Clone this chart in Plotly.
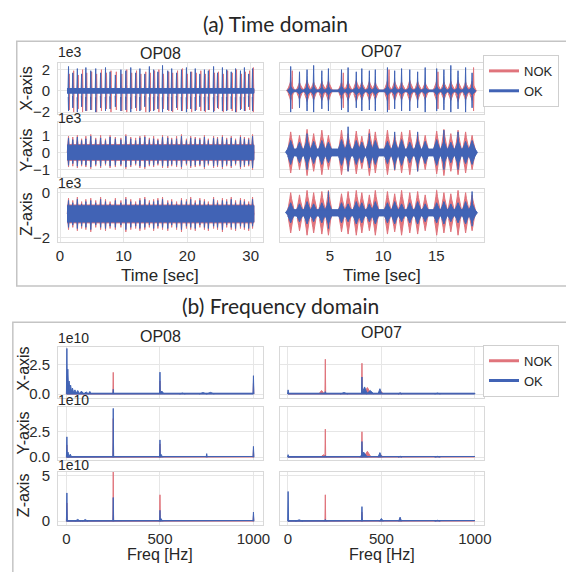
import plotly.graph_objects as go

W, H = 566, 572
NOK_COLOR = "#e0747c"
OK_COLOR = "#4163b5"

# ---------------- DATA ----------------
# Time domain, amplitudes in units of 1e3
op08_t_range = [1.1, 30.5]
op08_ok_t = [1.34, 2.01, 2.73, 3.40, 4.07, 4.84, 5.62, 6.39, 7.16, 7.88, 8.71, 9.58, 10.36, 11.13,
             11.90, 12.57, 13.34, 14.06, 14.73, 15.40, 16.13, 16.95, 17.57, 18.34, 19.11, 19.89,
             20.56, 21.28, 22.00, 22.72, 23.34, 24.16, 24.78, 25.55, 26.22, 26.94, 27.62, 28.39,
             29.01, 29.68, 30.29]
op08_nok_t = [1.46, 2.15, 2.86, 3.55, 4.20, 4.98, 5.76, 6.52, 7.31, 8.02, 8.86, 9.72, 10.50, 11.27,
              12.04, 12.72, 13.49, 14.20, 14.88, 15.55, 16.28, 17.10, 17.72, 18.49, 19.26, 20.04,
              20.71, 21.43, 22.15, 22.87, 23.49, 24.31, 24.93, 25.70, 26.37, 27.09, 27.77, 28.54,
              29.16, 29.83, 30.42]

op08x_center = 0.0
op08x_ok_floor, op08x_nok_floor = 0.22, 0.15
op08x_ok_hi = [2.3, 1.7, 2.1, 1.6, 2.2, 1.9, 2.1, 1.7, 2.2, 1.8, 1.5, 2.0, 1.9, 2.2, 1.7, 2.1, 1.6, 2.3,
               2.0, 1.8, 2.4, 1.9, 2.1, 1.7, 2.0, 2.2, 1.8, 2.1, 1.6, 2.0, 1.9, 2.3, 1.7, 2.2, 2.0, 1.8,
               2.1, 1.9, 2.2, 1.6, 2.1]
op08x_ok_lo = [-1.9, -1.6, -2.0, -1.5, -1.9, -1.8, -2.0, -1.6, -1.9, -1.7, -1.5, -1.9, -1.8, -2.0,
               -1.6, -1.9, -1.5, -2.0, -1.9, -1.7, -2.0, -1.8, -1.9, -1.6, -1.9, -2.0, -1.7, -1.9,
               -1.5, -1.9, -1.8, -2.0, -1.6, -1.9, -1.9, -1.7, -2.0, -1.8, -1.9, -1.5, -1.9]
op08x_nok_hi = [1.6, 1.9, 1.5, 2.0, 1.7, 1.8, 1.6, 2.0, 1.7, 1.9, 1.8, 1.6, 2.0, 1.7, 1.9, 1.6, 1.8,
                1.7, 1.9, 2.0, 1.6, 1.8, 1.7, 1.9, 2.1, 1.6, 1.8, 1.7, 1.9, 1.6, 2.0, 1.7, 1.8, 1.6,
                1.9, 1.7, 2.0, 1.6, 1.8, 1.9, 2.2]
op08x_nok_lo = [-1.8, -2.0, -1.7, -2.0, -1.9, -1.8, -2.0, -1.9, -1.7, -2.0, -1.8, -1.9, -2.0, -1.7,
                -1.9, -1.8, -2.0, -1.9, -1.8, -2.0, -1.7, -1.9, -2.0, -1.8, -1.9, -1.7, -2.0, -1.8,
                -1.9, -2.0, -1.8, -1.9, -1.7, -2.0, -1.8, -1.9, -2.0, -1.7, -1.9, -1.8, -2.0]

op08y_center = 0.0
op08y_ok_floor, op08y_nok_floor = 0.42, 0.46
op08y_ok_hi = [0.85, 0.75, 0.9, 0.7, 0.8, 0.95, 0.75, 0.85, 0.7, 0.9, 0.8, 0.75, 0.95, 0.8, 0.7, 0.85,
               0.9, 0.75, 0.8, 0.7, 0.9, 0.85, 0.75, 0.8, 0.95, 0.7, 0.85, 0.8, 0.75, 0.9, 0.7, 0.85,
               0.8, 0.9, 0.75, 0.85, 0.7, 0.9, 0.8, 0.75, 0.95]
op08y_ok_lo = [-0.75, -0.65, -0.8, -0.7, -0.75, -0.85, -0.7, -0.8, -0.65, -0.8, -0.75, -0.7, -0.85,
               -0.75, -0.65, -0.8, -0.85, -0.7, -0.75, -0.65, -0.8, -0.8, -0.7, -0.75, -0.85, -0.65,
               -0.8, -0.75, -0.7, -0.85, -0.65, -0.8, -0.75, -0.85, -0.7, -0.8, -0.65, -0.85, -0.75,
               -0.7, -0.9]
op08y_nok_hi = [0.95, 0.9, 1.0, 0.8, 0.95, 1.05, 0.85, 1.0, 0.8, 1.0, 0.9, 0.85, 1.05, 0.9, 0.85,
                0.95, 1.0, 0.85, 0.95, 0.8, 1.0, 0.95, 0.85, 0.95, 1.05, 0.8, 0.95, 0.9, 0.85, 1.0,
                0.8, 0.95, 0.9, 1.0, 0.85, 0.95, 0.8, 1.0, 0.9, 0.85, 1.05]
op08y_nok_lo = [-0.85, -0.8, -0.9, -0.8, -0.85, -0.95, -0.8, -0.9, -0.75, -0.9, -0.85, -0.8, -0.95,
                -0.85, -0.75, -0.9, -0.95, -0.8, -0.85, -0.75, -0.9, -0.9, -0.8, -0.85, -0.95, -0.75,
                -0.9, -0.85, -0.8, -0.95, -0.75, -0.9, -0.85, -0.95, -0.8, -0.9, -0.75, -0.95, -0.85,
                -0.8, -1.0]

op08z_center = -0.95
op08z_ok_floor, op08z_nok_floor = 0.36, 0.40
op08z_ok_hi = [-0.35, -0.45, -0.3, -0.5, -0.4, -0.35, -0.45, -0.3, -0.4, -0.5, -0.35, -0.45, -0.3,
               -0.4, -0.5, -0.35, -0.3, -0.45, -0.4, -0.35, -0.3, -0.45, -0.4, -0.5, -0.35, -0.4,
               -0.3, -0.45, -0.35, -0.4, -0.5, -0.3, -0.45, -0.35, -0.4, -0.3, -0.45, -0.35, -0.4,
               -0.5, -0.3]
op08z_ok_lo = [-1.55, -1.45, -1.6, -1.5, -1.55, -1.65, -1.45, -1.55, -1.6, -1.5, -1.55, -1.45, -1.65,
               -1.55, -1.5, -1.6, -1.55, -1.45, -1.6, -1.5, -1.55, -1.6, -1.45, -1.55, -1.65, -1.5,
               -1.55, -1.6, -1.45, -1.55, -1.6, -1.5, -1.55, -1.65, -1.45, -1.55, -1.6, -1.5, -1.55,
               -1.6, -1.5]
op08z_nok_hi = [-0.25, -0.35, -0.2, -0.4, -0.3, -0.25, -0.35, -0.2, -0.3, -0.4, -0.25, -0.35, -0.2,
                -0.3, -0.4, -0.25, -0.2, -0.35, -0.3, -0.25, -0.2, -0.35, -0.3, -0.4, -0.25, -0.3,
                -0.2, -0.35, -0.25, -0.3, -0.4, -0.2, -0.35, -0.25, -0.3, -0.2, -0.35, -0.25, -0.3,
                -0.4, -0.2]
op08z_nok_lo = [-1.65, -1.55, -1.7, -1.6, -1.65, -1.75, -1.55, -1.65, -1.7, -1.6, -1.65, -1.55, -1.75,
                -1.65, -1.6, -1.7, -1.65, -1.55, -1.7, -1.6, -1.65, -1.7, -1.55, -1.65, -1.75, -1.6,
                -1.65, -1.7, -1.55, -1.65, -1.7, -1.6, -1.65, -1.75, -1.55, -1.65, -1.7, -1.6, -1.65,
                -1.7, -1.6]

op07_t_range = [1.1, 18.6]
op07_t = [1.30, 2.13, 2.84, 3.46, 4.23, 4.85, 6.08, 6.70, 7.47, 7.99, 8.70, 9.26, 10.40, 11.08,
          11.73, 12.50, 13.24, 13.95, 15.03, 15.71, 16.36, 17.04, 17.75, 18.36]

op07x_center = 0.0
op07x_ok_floor, op07x_nok_floor = 0.08, 0.06
op07x_ok_spike_hi = [2.3, 1.8, 2.0, 2.4, 1.9, 2.1, 2.0, 2.2, 1.8, 2.1, 1.9, 2.0, 2.2, 1.9, 2.1, 2.0,
                     1.8, 2.2, 2.1, 2.0, 2.4, 1.9, 2.2, 1.7]
op07x_ok_spike_lo = [-2.0, -1.6, -1.9, -2.0, -1.7, -1.9, -1.8, -2.0, -1.6, -1.9, -1.8, -1.9, -2.0,
                     -1.7, -1.9, -1.9, -1.6, -2.0, -1.9, -1.8, -2.0, -1.7, -2.0, -1.6]
op07x_ok_burst = [0.4, 0.35, 0.45, 0.4, 0.35, 0.4, 0.45, 0.35, 0.4, 0.45, 0.35, 0.4, 0.45, 0.4,
                  0.35, 0.4, 0.45, 0.35, 0.4, 0.45, 0.4, 0.35, 0.45, 0.4]
op07x_nok_burst = [0.9, 0.8, 1.0, 0.85, 0.9, 0.95, 0.8, 0.9, 1.0, 0.85, 0.9, 0.8, 0.95, 0.9, 0.85,
                   1.0, 0.9, 0.8, 0.95, 0.85, 0.9, 1.0, 0.85, 0.9]
op07x_nok_spike_t = [1.45, 6.25, 10.55, 15.15, 18.50]
op07x_nok_spike_hi = [1.9, 1.7, 2.0, 1.8, 2.2]
op07x_nok_spike_lo = [-1.7, -1.6, -1.8, -1.7, -1.9]

op07y_center = 0.0
op07y_ok_floor, op07y_nok_floor = 0.2, 0.15
op07y_ok_burst = [0.7, 0.6, 0.75, 0.65, 0.7, 0.6, 0.75, 0.65, 0.7, 0.6, 0.75, 0.7, 0.65, 0.7, 0.75,
                  0.6, 0.7, 0.65, 0.75, 0.7, 0.6, 0.75, 0.65, 0.7]
op07y_nok_burst = [1.2, 1.0, 1.35, 1.1, 1.3, 1.0, 1.3, 1.1, 1.25, 0.95, 1.35, 1.2, 1.3, 1.05, 1.2,
                   1.3, 1.1, 1.0, 1.25, 1.35, 1.1, 1.3, 1.2, 1.0]
op07y_ok_spike_t = [2.84, 6.70, 8.70, 11.08, 13.24, 15.71, 17.04]
op07y_ok_spike_hi = [1.1, 1.5, 1.1, 1.2, 1.2, 1.3, 1.2]
op07y_ok_spike_lo = [-1.0, -1.1, -0.9, -1.0, -1.1, -1.0, -1.0]

op07z_center = -0.9
op07z_ok_floor, op07z_nok_floor = 0.14, 0.1
op07z_ok_burst = [0.45, 0.4, 0.5, 0.4, 0.45, 0.5, 0.45, 0.4, 0.5, 0.45, 0.4, 0.5, 0.45, 0.5, 0.4,
                  0.45, 0.5, 0.4, 0.45, 0.5, 0.4, 0.45, 0.5, 0.45]
op07z_nok_burst = [0.9, 0.8, 1.0, 0.9, 0.95, 1.0, 0.85, 0.95, 1.0, 0.9, 0.8, 1.0, 0.95, 0.85, 1.0,
                   0.9, 0.95, 0.8, 1.0, 0.9, 0.85, 1.0, 0.9, 0.8]
op07z_ok_spike_t = [4.85, 18.36]
op07z_ok_spike_hi = [0.05, 0.05]
op07z_ok_spike_lo = [-1.6, -1.5]

# Frequency domain, magnitude in units of 1e10
freq_range = [0, 1000]
op08x_ok_f = [2, 7, 14, 22, 32, 45, 60, 80, 105, 125, 250, 500, 510, 620, 730, 770, 1000]
op08x_ok_h = [3.85, 2.1, 1.1, 0.75, 0.5, 0.35, 0.3, 0.25, 0.18, 0.22, 0.4, 1.85, 0.25, 0.08, 0.12,
              0.14, 1.55]
op08x_ok_w = [5, 10, 12, 14, 16, 20, 20, 24, 24, 12, 4, 4, 24, 30, 40, 40, 5]
op08x_nok_f = [2, 250, 500, 1000]
op08x_nok_h = [1.5, 1.83, 1.1, 0.9]
op08x_nok_w = [5, 4, 4, 4]

op08y_ok_f = [2, 8, 20, 250, 500, 505, 750, 1000]
op08y_ok_h = [2.0, 0.5, 0.3, 4.8, 1.7, 0.3, 0.35, 1.06]
op08y_ok_w = [5, 10, 16, 4, 4, 20, 6, 5]
op08y_nok_f = [2, 250, 500, 1000]
op08y_nok_h = [1.2, 3.8, 1.3, 0.7]
op08y_nok_w = [5, 4, 4, 4]

op08z_ok_f = [2, 60, 100, 250, 500, 505, 1000]
op08z_ok_h = [3.1, 0.2, 0.18, 2.6, 1.2, 0.3, 1.0]
op08z_ok_w = [5, 30, 30, 4, 4, 20, 5]
op08z_nok_f = [2, 250, 500, 1000]
op08z_nok_h = [2.0, 5.6, 2.9, 0.6]
op08z_nok_w = [5, 4, 4, 4]

op07x_ok_f = [1, 200, 300, 396, 410, 440, 492, 600, 800]
op07x_ok_h = [0.35, 0.2, 0.12, 1.44, 0.6, 0.3, 0.45, 0.1, 0.08]
op07x_ok_w = [6, 10, 40, 5, 30, 40, 20, 20, 30]
op07x_nok_f = [180, 200, 396, 425, 500, 600]
op07x_nok_h = [0.3, 2.94, 2.6, 0.55, 0.2, 0.08]
op07x_nok_w = [30, 4, 4, 40, 20, 20]

op07y_ok_f = [1, 200, 396, 405, 492, 600, 800]
op07y_ok_h = [0.25, 0.15, 1.54, 0.5, 0.45, 0.1, 0.08]
op07y_ok_w = [6, 10, 5, 40, 20, 20, 30]
op07y_nok_f = [190, 200, 396, 425, 500]
op07y_nok_h = [0.25, 2.76, 2.5, 0.58, 0.2]
op07y_nok_w = [30, 4, 4, 40, 20]

op07z_ok_f = [1, 60, 200, 396, 500, 600, 800]
op07z_ok_h = [3.26, 0.15, 0.2, 1.6, 0.3, 0.45, 0.1]
op07z_ok_w = [5, 40, 10, 5, 20, 15, 30]
op07z_nok_f = [200, 396, 600]
op07z_nok_h = [2.9, 1.0, 0.3]
op07z_nok_w = [4, 4, 15]

ok_spec_floor, nok_spec_floor = 0.07, 0.04

series_names = ["NOK", "OK"]
col_titles = ["OP08", "OP07"]
row_titles = ["X-axis", "Y-axis", "Z-axis"]

# ---------------- helpers ----------------
# spindle outline of one burst: (fraction of duration, fraction of amplitude)
SPINDLE = [(-0.5, 0.0), (-0.28, 0.3), (-0.1, 0.72), (0.0, 1.0), (0.1, 0.72), (0.28, 0.3), (0.5, 0.0)]


def band(t0, t1, center, half):
    return [t0, t1, t1, t0, None], [center + half, center + half, center - half, center - half, None]


def bursts(times, hi, lo, dur, center):
    xs, ys = [], []
    for t, h, l in zip(times, hi, lo):
        for fx, fy in SPINDLE:
            xs.append(t + fx * dur)
            ys.append(center + fy * (h - center))
        for fx, fy in reversed(SPINDLE[1:-1]):
            xs.append(t + fx * dur)
            ys.append(center + fy * (l - center))
        xs.append(None)
        ys.append(None)
    return xs, ys


def sym_bursts(times, amps, dur, center):
    return bursts(times, [center + a for a in amps], [center - a for a in amps], dur, center)


def peaks(freqs, heights, widths):
    xs, ys = [], []
    for f, h, w in zip(freqs, heights, widths):
        xs += [f - w / 2, f, f + w / 2, None]
        ys += [0, h, 0, None]
    return xs, ys


def join(*parts):
    xs, ys = [], []
    for px_, py_ in parts:
        xs += px_
        ys += py_
    return xs, ys


fig = go.Figure()


def add_series(idx, xy, color):
    xs, ys = xy
    sfx = "" if idx == 1 else str(idx)
    fig.add_trace(go.Scatter(x=xs, y=ys, mode="lines", fill="toself", fillcolor=color,
                             line=dict(color=color, width=1), showlegend=False,
                             hoverinfo="skip", xaxis="x" + sfx, yaxis="y" + sfx))


# time panels: idx 1..6 (row-major, col 0 = OP08, col 1 = OP07)
t0, t1 = op08_t_range
add_series(1, join(band(t0, t1, op08x_center, op08x_nok_floor),
                   bursts(op08_nok_t, op08x_nok_hi, op08x_nok_lo, 0.14, op08x_center)), NOK_COLOR)
add_series(1, join(band(t0, t1, op08x_center, op08x_ok_floor),
                   bursts(op08_ok_t, op08x_ok_hi, op08x_ok_lo, 0.16, op08x_center)), OK_COLOR)
add_series(3, join(band(t0, t1, op08y_center, op08y_nok_floor),
                   bursts(op08_ok_t, op08y_nok_hi, op08y_nok_lo, 0.4, op08y_center)), NOK_COLOR)
add_series(3, join(band(t0, t1, op08y_center, op08y_ok_floor),
                   bursts(op08_ok_t, op08y_ok_hi, op08y_ok_lo, 0.35, op08y_center)), OK_COLOR)
add_series(5, join(band(t0, t1, op08z_center, op08z_nok_floor),
                   bursts(op08_ok_t, op08z_nok_hi, op08z_nok_lo, 0.4, op08z_center)), NOK_COLOR)
add_series(5, join(band(t0, t1, op08z_center, op08z_ok_floor),
                   bursts(op08_ok_t, op08z_ok_hi, op08z_ok_lo, 0.35, op08z_center)), OK_COLOR)

t0, t1 = op07_t_range
add_series(2, join(band(t0, t1, op07x_center, op07x_nok_floor),
                   sym_bursts(op07_t, op07x_nok_burst, 0.8, op07x_center),
                   bursts(op07x_nok_spike_t, op07x_nok_spike_hi, op07x_nok_spike_lo, 0.1, op07x_center)),
           NOK_COLOR)
add_series(2, join(band(t0, t1, op07x_center, op07x_ok_floor),
                   sym_bursts(op07_t, op07x_ok_burst, 0.7, op07x_center),
                   bursts(op07_t, op07x_ok_spike_hi, op07x_ok_spike_lo, 0.1, op07x_center)), OK_COLOR)
add_series(4, join(band(t0, t1, op07y_center, op07y_nok_floor),
                   sym_bursts(op07_t, op07y_nok_burst, 0.75, op07y_center)), NOK_COLOR)
add_series(4, join(band(t0, t1, op07y_center, op07y_ok_floor),
                   sym_bursts(op07_t, op07y_ok_burst, 1.0, op07y_center),
                   bursts(op07y_ok_spike_t, op07y_ok_spike_hi, op07y_ok_spike_lo, 0.1, op07y_center)),
           OK_COLOR)
add_series(6, join(band(t0, t1, op07z_center, op07z_nok_floor),
                   sym_bursts(op07_t, op07z_nok_burst, 0.75, op07z_center)), NOK_COLOR)
add_series(6, join(band(t0, t1, op07z_center, op07z_ok_floor),
                   sym_bursts(op07_t, op07z_ok_burst, 1.0, op07z_center),
                   bursts(op07z_ok_spike_t, op07z_ok_spike_hi, op07z_ok_spike_lo, 0.1, op07z_center)),
           OK_COLOR)

# frequency panels: idx 7..12
f0, f1 = freq_range
spec = [
    (7, op08x_nok_f, op08x_nok_h, op08x_nok_w, op08x_ok_f, op08x_ok_h, op08x_ok_w),
    (8, op07x_nok_f, op07x_nok_h, op07x_nok_w, op07x_ok_f, op07x_ok_h, op07x_ok_w),
    (9, op08y_nok_f, op08y_nok_h, op08y_nok_w, op08y_ok_f, op08y_ok_h, op08y_ok_w),
    (10, op07y_nok_f, op07y_nok_h, op07y_nok_w, op07y_ok_f, op07y_ok_h, op07y_ok_w),
    (11, op08z_nok_f, op08z_nok_h, op08z_nok_w, op08z_ok_f, op08z_ok_h, op08z_ok_w),
    (12, op07z_nok_f, op07z_nok_h, op07z_nok_w, op07z_ok_f, op07z_ok_h, op07z_ok_w),
]
for idx, nf, nh, nw, of, oh, ow in spec:
    add_series(idx, join(band(f0, f1, nok_spec_floor / 2, nok_spec_floor / 2), peaks(nf, nh, nw)),
               NOK_COLOR)
    add_series(idx, join(band(f0, f1, ok_spec_floor / 2, ok_spec_floor / 2), peaks(of, oh, ow)),
               OK_COLOR)

# legend entries
for lg in ["legend", "legend2"]:
    for name, color in zip(series_names, [NOK_COLOR, OK_COLOR]):
        fig.add_trace(go.Scatter(x=[None], y=[None], mode="lines", name=name,
                                 line=dict(color=color, width=3), legend=lg, showlegend=True))

# ---------------- layout ----------------
def px(v):
    return v / W


def py(v):
    return 1 - v / H


col_px = [(57, 265), (282, 490)]
time_rows_px = [(59, 111), (120, 176), (188, 242)]
freq_rows_px = [(349, 401), (411, 465), (477, 531)]

time_xrange = [[-0.3, 31.9], [0.25, 19.5]]
time_xticks = [[0, 10, 20, 30], [5, 10, 15]]
time_yrange = [[-2.15, 2.65], [-1.45, 1.75], [-2.2, 0.16]]
time_yticks = [[-2, 0, 2], [-1, 0, 1], [-2, 0]]
freq_xrange = [-45, 1050]
freq_xticks = [0, 500, 1000]
freq_yrange = [[-0.3, 4.0], [-0.3, 4.9], [-0.4, 5.4]]
freq_yticks = [[0, 2.5], [0, 2.5], [0, 5]]
freq_yfmt = [".1f", ".1f", "d"]

TICKFONT = dict(family="Liberation Sans, Arial, sans-serif", size=15, color="#2b2b2b")
axis_common = dict(showgrid=True, gridcolor="#e6e6e6", gridwidth=1, showline=True,
                   linecolor="#d9d9d9", linewidth=1, mirror=True, zeroline=False, ticks="",
                   tickfont=TICKFONT, fixedrange=True)

layout_axes = {}
for section in range(2):
    rows_px = time_rows_px if section == 0 else freq_rows_px
    for r in range(3):
        for c in range(2):
            idx = section * 6 + r * 2 + c + 1
            sfx = "" if idx == 1 else str(idx)
            xa = dict(axis_common, domain=[px(col_px[c][0]), px(col_px[c][1])],
                      anchor="y" + sfx, showticklabels=(r == 2), ticklabelstandoff=0)
            ya = dict(axis_common, domain=[py(rows_px[r][1]), py(rows_px[r][0])],
                      anchor="x" + sfx, showticklabels=(c == 0), ticklabelstandoff=4)
            if section == 0:
                xa.update(range=time_xrange[c], tickvals=time_xticks[c])
                ya.update(range=time_yrange[r], tickvals=time_yticks[r])
            else:
                xa.update(range=freq_xrange, tickvals=freq_xticks)
                ya.update(range=freq_yrange[r], tickvals=freq_yticks[r], tickformat=freq_yfmt[r])
            layout_axes["xaxis" + sfx] = xa
            layout_axes["yaxis" + sfx] = ya

ann = []
TEXT = "#262626"


def add_text(text, x, y, size, family="Liberation Sans, Arial, sans-serif", angle=0, xanchor="center"):
    ann.append(dict(text=text, x=px(x), y=py(y), xref="paper", yref="paper", showarrow=False,
                    xanchor=xanchor, yanchor="middle", textangle=angle,
                    font=dict(family=family, size=size, color=TEXT)))


add_text("(a) Time domain", 278, 19, 21, family="Lato, Open Sans, sans-serif")
add_text("(b) Frequency domain", 283, 307, 21, family="Lato, Open Sans, sans-serif")
for c, cx in enumerate([161, 386]):
    add_text(col_titles[c], cx, 50 if c == 0 else 48, 16)
    add_text(col_titles[c], cx, 339 if c == 0 else 335, 16)
    add_text("Time [sec]", cx, 276, 17)
    add_text("Freq [Hz]", cx, 561, 16)
for r, (ty, fy) in enumerate([(86, 372), (148, 437), (214, 501)]):
    add_text(row_titles[r], 25, ty, 16, angle=-90)
    add_text(row_titles[r], 22, fy, 16, angle=-90)
for y in [48, 115, 182]:
    add_text("1e3", 55, y, 14, xanchor="left")
for y in [340, 403, 470]:
    add_text("1e10", 55, y, 14, xanchor="left")

shapes = [
    dict(type="rect", xref="paper", yref="paper", x0=px(15), x1=px(575), y0=py(287), y1=py(37),
         line=dict(color="#c4c4c4", width=1.5), layer="below"),
    dict(type="rect", xref="paper", yref="paper", x0=px(11), x1=px(575), y0=py(590), y1=py(324),
         line=dict(color="#c4c4c4", width=1.5), layer="below"),
]

legend_common = dict(xanchor="right", x=1.0, yanchor="top", bgcolor="white",
                     bordercolor="#cfcfcf", borderwidth=1,
                     font=dict(family="Liberation Sans, Arial, sans-serif", size=13, color=TEXT),
                     itemwidth=30, tracegroupgap=0)

fig.update_layout(
    width=W, height=H, margin=dict(l=0, r=0, t=0, b=0),
    paper_bgcolor="white", plot_bgcolor="white",
    annotations=ann, shapes=shapes,
    legend=dict(legend_common, y=py(51)),
    legend2=dict(legend_common, y=py(347)),
    **layout_axes,
)

fig.write_html("out.html")
